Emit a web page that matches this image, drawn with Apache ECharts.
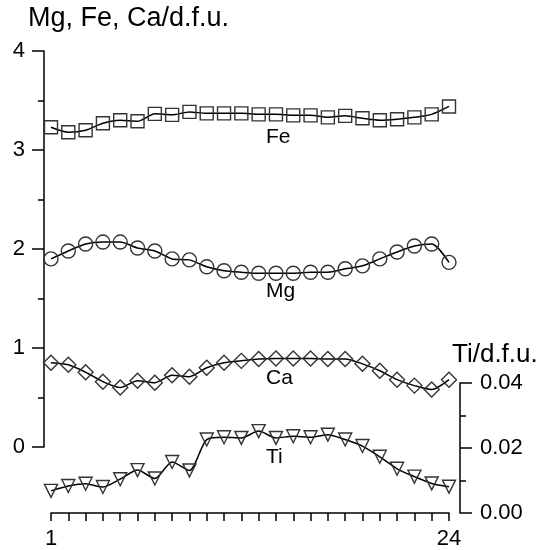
<!DOCTYPE html>
<html>
<head>
<meta charset="utf-8">
<script src="https://cdn.jsdelivr.net/npm/echarts@6/dist/echarts.min.js"></script>
<style>html,body{margin:0;padding:0;background:#fff}#c{width:549px;height:550px}</style>
</head>
<body>
<div id="c"></div>
<script>
const positions = [1,2,3,4,5,6,7,8,9,10,11,12,13,14,15,16,17,18,19,20,21,22,23,24];
const fe = [3.23,3.18,3.20,3.27,3.30,3.29,3.365,3.355,3.385,3.37,3.37,3.37,3.36,3.36,3.35,3.35,3.33,3.345,3.32,3.30,3.31,3.33,3.36,3.44];
const mg = [1.90,1.98,2.05,2.07,2.07,2.01,1.98,1.90,1.89,1.82,1.78,1.765,1.755,1.755,1.755,1.765,1.765,1.80,1.83,1.90,1.97,2.03,2.05,1.865];
const ca = [0.85,0.83,0.755,0.66,0.60,0.67,0.65,0.725,0.71,0.80,0.85,0.87,0.89,0.895,0.895,0.895,0.89,0.89,0.84,0.77,0.68,0.62,0.58,0.68];
const ti = [0.0068,0.0083,0.0090,0.0080,0.0104,0.0132,0.0106,0.0157,0.0131,0.0226,0.0233,0.0231,0.0252,0.0231,0.0236,0.0233,0.0241,0.0226,0.0206,0.0173,0.0136,0.0112,0.0091,0.0081];
const xTickLabels = {1:'1', 24:'24'};
const leftTicks = [0,1,2,3,4];
const rightTicks = ['0.00','0.02','0.04'];

const FONT = '"Liberation Sans", Arial, sans-serif';
const chart = echarts.init(document.getElementById('c'), null, {renderer:'canvas'});
function pairs(v){ return positions.map((p,i)=>[p, v[i]]); }
function ser(name, data, sym, size, rot, xi, yi){
  return {
    name, type:'line', data: pairs(data), xAxisIndex: xi, yAxisIndex: yi,
    smooth: 0.25, symbol: sym, symbolSize: size, symbolRotate: rot || 0, showAllSymbol: true,
    clip: false, z: 3,
    lineStyle:{color:'#000', width:1.5},
    itemStyle:{color:'rgba(255,255,255,0)', borderColor:'#333', borderWidth:1.4},
    emphasis:{disabled:true}, animation:false
  };
}
const axisCommon = {
  axisLine:{show:true, lineStyle:{color:'#000', width:1.5}},
  splitLine:{show:false},
};
chart.setOption({
  animation:false,
  grid:[
    {left:51, right:100, top:51, bottom:103},
    {left:51, right:100, top:383, bottom:36}
  ],
  xAxis:[
    {type:'value', gridIndex:0, min:1, max:24, show:false},
    Object.assign({}, axisCommon, {
      type:'value', gridIndex:1, min:1, max:24, interval:1, position:'bottom',
      axisTick:{show:true, inside:false, length:8, lineStyle:{color:'#000', width:1.5}},
      axisLabel:{color:'#000', fontSize:22, fontFamily:FONT, margin:15,
        formatter: v => xTickLabels[v] || ''}
    })
  ],
  yAxis:[
    Object.assign({}, axisCommon, {
      type:'value', gridIndex:0, min:0, max:4, interval:1, position:'left', offset:7,
      axisTick:{show:true, length:12, lineStyle:{color:'#000', width:1.5}},
      minorTick:{show:true, splitNumber:2, length:6, lineStyle:{color:'#000', width:1.5}},
      axisLabel:{color:'#000', fontSize:22, fontFamily:FONT, margin:19,
        formatter: v => leftTicks.includes(v) ? String(v) : ''}
    }),
    Object.assign({}, axisCommon, {
      type:'value', gridIndex:1, min:0, max:0.04, interval:0.02, position:'right', offset:11,
      axisTick:{show:true, length:12, lineStyle:{color:'#000', width:1.5}},
      minorTick:{show:true, splitNumber:2, length:6, lineStyle:{color:'#000', width:1.5}},
      axisLabel:{color:'#000', fontSize:22, fontFamily:FONT, margin:20,
        formatter: v => rightTicks[Math.round(v/0.02)]}
    })
  ],
  series:[
    ser('Fe', fe, 'rect', 13, 0, 0, 0),
    ser('Mg', mg, 'circle', 14, 0, 0, 0),
    ser('Ca', ca, 'diamond', 15, 0, 0, 0),
    ser('Ti', ti, 'triangle', 13, 180, 1, 1)
  ],
  graphic:[
    {type:'text', left:28, top:5, style:{text:'Mg, Fe, Ca/d.f.u.', font:'27px '+FONT, fill:'#000'}},
    {type:'text', left:452, top:342, style:{text:'Ti/d.f.u.', font:'26px '+FONT, fill:'#000'}},
    {type:'text', left:266, top:127, style:{text:'Fe', font:'21px '+FONT, fill:'#000'}},
    {type:'text', left:266, top:281, style:{text:'Mg', font:'21px '+FONT, fill:'#000'}},
    {type:'text', left:266, top:368, style:{text:'Ca', font:'21px '+FONT, fill:'#000'}},
    {type:'text', left:266, top:447, style:{text:'Ti', font:'21px '+FONT, fill:'#000'}}
  ]
});
</script>
</body>
</html>
